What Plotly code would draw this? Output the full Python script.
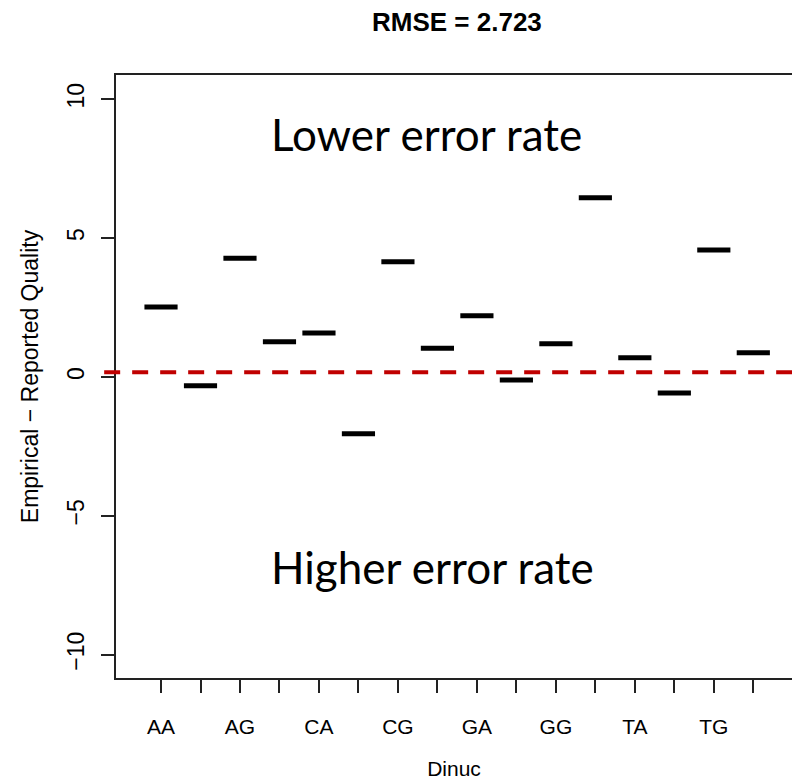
import plotly.graph_objects as go

# ---- data ----
categories = ["AA", "AC", "AG", "AT", "CA", "CC", "CG", "CT",
              "GA", "GC", "GG", "GT", "TA", "TC", "TG", "TT"]
values = [2.52, -0.32, 4.27, 1.27, 1.58, -2.05, 4.15, 1.03,
          2.20, -0.11, 1.19, 6.45, 0.69, -0.58, 4.57, 0.87]
ref_line = 0.17
y_ticks = [-10, -5, 0, 5, 10]
title_text = "RMSE = 2.723"
x_title = "Dinuc"
y_title = "Empirical \u2212 Reported Quality"
upper_note = "Lower error rate"
lower_note = "Higher error rate"

positions = list(range(1, len(categories) + 1))
tick_text = [c if i % 2 == 0 else "" for i, c in enumerate(categories)]
half_w = 0.42

xs, ys = [], []
for p, v in zip(positions, values):
    xs += [p - half_w, p + half_w, None]
    ys += [v, v, None]

fig = go.Figure()
fig.add_trace(go.Scatter(x=xs, y=ys, mode="lines",
                         line=dict(color="black", width=5),
                         hoverinfo="skip", showlegend=False))

FONT = "Liberation Sans, Arial, sans-serif"

fig.update_layout(
    width=792, height=781,
    margin=dict(l=116, r=0, t=75, b=103),
    paper_bgcolor="white", plot_bgcolor="white",
    showlegend=False,
    font=dict(family=FONT, size=20, color="black"),
    xaxis=dict(range=[-0.14, 16.98], tickmode="array",
               tickvals=positions, ticktext=tick_text,
               ticks="outside", ticklen=13, tickwidth=1.5, tickcolor="#222",
               showline=True, linecolor="#222", linewidth=1.5, mirror=True,
               showgrid=False, zeroline=False,
               tickfont=dict(family=FONT, size=21),
               ticklabelstandoff=16,
               title=dict(text=x_title, font=dict(family=FONT, size=21), standoff=24)),
    yaxis=dict(range=[-10.84, 10.87], tickmode="array",
               tickvals=y_ticks,
               ticktext=[str(t).replace("-", "\u2212") for t in y_ticks],
               tickangle=-90,
               ticks="outside", ticklen=13, tickwidth=1.5, tickcolor="#222",
               showline=True, linecolor="#222", linewidth=1.5, mirror=False,
               showgrid=False, zeroline=False,
               tickfont=dict(family=FONT, size=23),
               ticklabelstandoff=8,
               title=dict(text=y_title, font=dict(family=FONT, size=23), standoff=18)),
)

# red dashed reference line (extends slightly left of the frame, like R's abline)
fig.add_shape(type="line", xref="paper", yref="y",
              x0=-0.0175, x1=1.0, y0=ref_line, y1=ref_line,
              line=dict(color="#C00000", width=4, dash="16px,12px"),
              layer="above")

# title
fig.add_annotation(text="<b>" + title_text + "</b>", xref="x", yref="paper",
                   x=8.5, y=1, yshift=53, showarrow=False,
                   font=dict(family=FONT, size=26, color="black"),
                   xanchor="center", yanchor="middle")

fig.add_annotation(text=upper_note, xref="x", yref="y", x=3.735, y=8.73,
                   showarrow=False, xanchor="left", yanchor="middle",
                   font=dict(family="Lato, sans-serif", size=44, color="black"))
fig.add_annotation(text=lower_note, xref="x", yref="y", x=3.735, y=-6.83,
                   showarrow=False, xanchor="left", yanchor="middle",
                   font=dict(family="Lato, sans-serif", size=44, color="black"))

fig.write_html("out.html")
